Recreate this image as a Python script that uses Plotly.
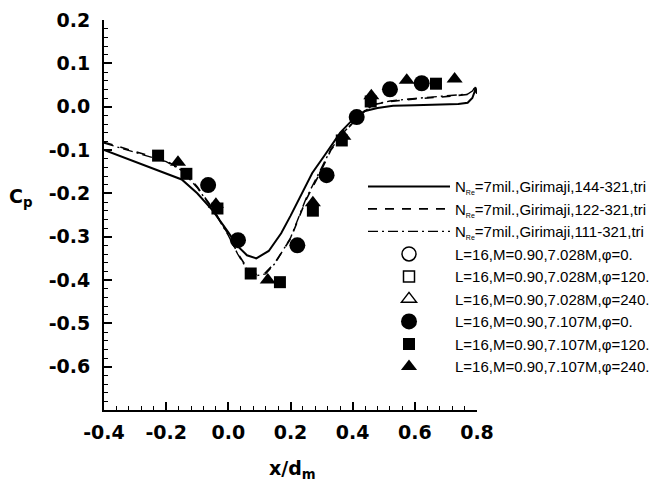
import plotly.graph_objects as go

# CFD curves
x_144 = [-0.40, -0.30, -0.20, -0.15, -0.10, -0.05, 0.00, 0.03, 0.06, 0.09, 0.13, 0.17, 0.20, 0.24, 0.27, 0.31,
         0.36, 0.40, 0.44, 0.48, 0.53, 0.60, 0.68, 0.74, 0.77, 0.785, 0.795, 0.80]
y_144 = [-0.100, -0.127, -0.153, -0.168, -0.200, -0.240, -0.290, -0.322, -0.343, -0.350, -0.333, -0.292, -0.252,
         -0.195, -0.153, -0.112, -0.060, -0.030, -0.010, -0.003, 0.002, 0.003, 0.004, 0.006, 0.009, 0.020, 0.040, 0.030]

x_122 = [-0.40, -0.30, -0.20, -0.15, -0.10, -0.05, 0.00, 0.03, 0.06, 0.09, 0.12, 0.15, 0.20, 0.25, 0.295, 0.33,
         0.37, 0.43, 0.47, 0.52, 0.60, 0.68, 0.74, 0.77, 0.785, 0.795, 0.80]
y_122 = [-0.082, -0.104, -0.125, -0.145, -0.185, -0.235, -0.295, -0.338, -0.372, -0.387, -0.383, -0.360, -0.305,
         -0.215, -0.153, -0.100, -0.061, -0.015, 0.005, 0.012, 0.018, 0.022, 0.025, 0.028, 0.035, 0.045, 0.035]

x_111 = [-0.40, -0.30, -0.20, -0.15, -0.10, -0.05, 0.00, 0.03, 0.06, 0.09, 0.12, 0.15, 0.20, 0.25, 0.29, 0.33,
         0.37, 0.43, 0.47, 0.52, 0.60, 0.68, 0.74, 0.77, 0.785, 0.795, 0.80]
y_111 = [-0.084, -0.106, -0.127, -0.147, -0.187, -0.237, -0.297, -0.340, -0.375, -0.390, -0.386, -0.362, -0.303,
         -0.212, -0.155, -0.098, -0.060, -0.014, 0.006, 0.013, 0.019, 0.023, 0.026, 0.029, 0.036, 0.046, 0.036]

# Experimental, 7.107M
x_phi0 = [-0.065, 0.031, 0.222, 0.316, 0.413, 0.520, 0.622]
y_phi0 = [-0.181, -0.308, -0.320, -0.158, -0.024, 0.040, 0.054]
x_phi120 = [-0.226, -0.135, -0.035, 0.072, 0.166, 0.272, 0.365, 0.458, 0.668]
y_phi120 = [-0.113, -0.155, -0.235, -0.385, -0.405, -0.240, -0.078, 0.012, 0.053]
x_phi240 = [-0.162, -0.040, 0.127, 0.272, 0.370, 0.460, 0.574, 0.728]
y_phi240 = [-0.128, -0.225, -0.400, -0.222, -0.068, 0.025, 0.061, 0.064]

x_ticks = [-0.4, -0.2, 0.0, 0.2, 0.4, 0.6, 0.8]
x_ticktext = ["-0.4", "-0.2", "0.0", "0.2", "0.4", "0.6", "0.8"]
y_ticks = [0.2, 0.1, 0.0, -0.1, -0.2, -0.3, -0.4, -0.5, -0.6]
y_ticktext = ["0.2", "0.1", "0.0", "-0.1", "-0.2", "-0.3", "-0.4", "-0.5", "-0.6"]

NRE = "N<sub><span style='font-size:7px'>Re</span></sub>"
names = [
    NRE + "=7mil.,Girimaji,144-321,tri",
    NRE + "=7mil.,Girimaji,122-321,tri",
    NRE + "=7mil.,Girimaji,111-321,tri",
    "L=16,M=0.90,7.028M,φ=0.",
    "L=16,M=0.90,7.028M,φ=120.",
    "L=16,M=0.90,7.028M,φ=240.",
    "L=16,M=0.90,7.107M,φ=0.",
    "L=16,M=0.90,7.107M,φ=120.",
    "L=16,M=0.90,7.107M,φ=240.",
]

fig = go.Figure()
fig.add_trace(go.Scatter(x=x_144, y=y_144, mode="lines", name=names[0], legendgroup="a",
                         line=dict(color="black", width=2, dash="solid")))
fig.add_trace(go.Scatter(x=x_122, y=y_122, mode="lines", name=names[1], legendgroup="b",
                         line=dict(color="black", width=1.6, dash="9px,8px")))
fig.add_trace(go.Scatter(x=x_111, y=y_111, mode="lines", name=names[2], legendgroup="c",
                         line=dict(color="black", width=1.4, dash="10px,4px,2px,4px")))
open_syms = ["circle-open", "square-open", "triangle-up-open"]
for i, s in enumerate(open_syms):
    fig.add_trace(go.Scatter(x=[None], y=[None], mode="markers", name=names[3 + i], legendgroup="o%d" % i,
                             marker=dict(symbol=s, size=[14, 11, 13][i], color="black", line=dict(width=1.5))))
fig.add_trace(go.Scatter(x=x_phi0, y=y_phi0, mode="markers", name=names[6], legendgroup="f0",
                         marker=dict(symbol="circle", size=16, color="black")))
fig.add_trace(go.Scatter(x=x_phi120, y=y_phi120, mode="markers", name=names[7], legendgroup="f1",
                         marker=dict(symbol="square", size=12, color="black")))
fig.add_trace(go.Scatter(x=x_phi240, y=y_phi240, mode="markers", name=names[8], legendgroup="f2",
                         marker=dict(symbol="triangle-up", size=14, color="black")))

axis_font = dict(family="DejaVu Sans, sans-serif", size=19, color="black", weight="bold")
title_font = dict(family="DejaVu Sans, sans-serif", size=19, color="black", weight="bold")
fig.update_layout(
    width=658, height=489,
    margin=dict(l=104, r=181, t=20, b=79, autoexpand=False),
    paper_bgcolor="white", plot_bgcolor="white",
    showlegend=True,
    legend=dict(x=(363 - 104) / 373, y=0.615, xanchor="left", yanchor="top", bgcolor="rgba(0,0,0,0)",
                font=dict(family="Liberation Sans, Arial, sans-serif", size=15, color="black"),
                itemwidth=82, tracegroupgap=6, traceorder="normal", itemsizing="trace"),
    xaxis=dict(range=[-0.4, 0.8], tickvals=x_ticks, ticktext=x_ticktext, ticks="inside", ticklen=8,
               tickwidth=1.5, tickcolor="black", showline=True, linewidth=2, linecolor="black",
               showgrid=False, zeroline=False, tickfont=axis_font, ticklabelstandoff=4,
               minor=dict(tick0=-0.4, dtick=0.04, ticks="inside", ticklen=4, tickwidth=1, tickcolor="black",
                          showgrid=False)),
    yaxis=dict(range=[-0.7, 0.2], tickvals=y_ticks, ticktext=y_ticktext, ticks="inside", ticklen=8,
               tickwidth=1.5, tickcolor="black", showline=True, linewidth=2, linecolor="black",
               showgrid=False, zeroline=False, tickfont=axis_font, ticklabelstandoff=8,
               minor=dict(tick0=-0.7, dtick=0.02, ticks="inside", ticklen=4, tickwidth=1, tickcolor="black",
                          showgrid=False)),
    annotations=[
        dict(text="C<sub>p</sub>", x=(20 - 104) / 373, y=(410 - 197) / 390, xref="paper", yref="paper",
             showarrow=False, font=title_font, xanchor="center", yanchor="middle"),
        dict(text="x/d<sub>m</sub>", x=(292 - 104) / 373, y=(410 - 470) / 390, xref="paper", yref="paper",
             showarrow=False, font=title_font, xanchor="center", yanchor="middle"),
    ],
)

fig.write_html("out.html")
